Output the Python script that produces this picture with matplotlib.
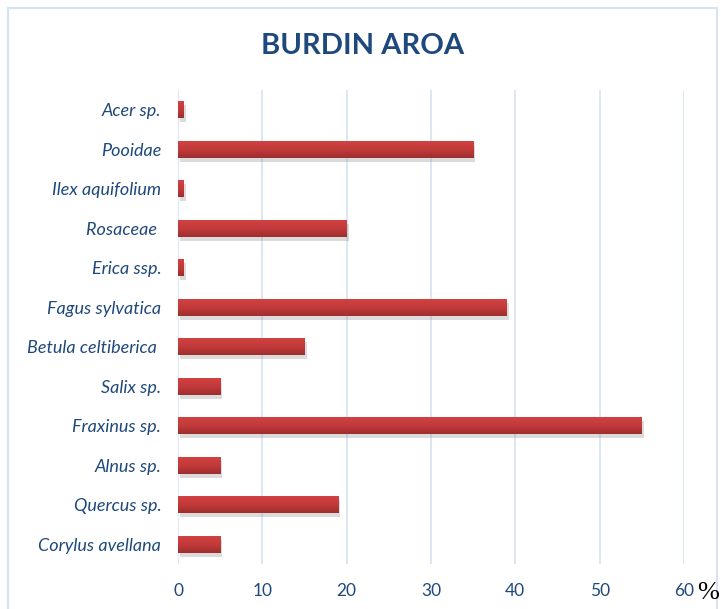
import numpy as np
import matplotlib.pyplot as plt
import matplotlib.patheffects as pe
from matplotlib.patches import Rectangle
from matplotlib.colors import LinearSegmentedColormap

# taxa, top to bottom as in the chart
taxa = ["Acer sp.", "Pooidae", "Ilex aquifolium", "Rosaceae ", "Erica ssp.",
        "Fagus sylvatica", "Betula celtiberica ", "Salix sp.", "Fraxinus sp.",
        "Alnus sp.", "Quercus sp.", "Corylus avellana"]
percent = [0.7, 35, 0.7, 20, 0.7, 39, 15, 5, 55, 5, 19, 5]
xticks = [0, 10, 20, 30, 40, 50, 60]

text_blue = "#1F497D"
grid_blue = "#D5E3F3"

fig = plt.figure(figsize=(7.21, 6.09), dpi=100)
ax = fig.add_axes([178 / 721, 45 / 609, (684 - 178) / 721, (564 - 90) / 609])

# outer chart frame
fig.patches.append(Rectangle((8 / 721, -0.05), (717 - 8) / 721, 1.05 - 8 / 609,
                             transform=fig.transFigure, fill=False,
                             edgecolor=grid_blue, linewidth=1.5))

y = np.arange(len(taxa))
h = 0.43
bars = ax.barh(y, percent, height=h, color="#C63A3A", linewidth=0, zorder=3)

# vertical red gradient on each bar, lighter on top
grad = LinearSegmentedColormap.from_list("bar", ["#D24242", "#C23A3A", "#9E2E2E"])
g = np.linspace(0, 1, 64).reshape(-1, 1)
for b, yi, v in zip(bars, y, percent):
    b.set_path_effects([pe.SimplePatchShadow(offset=(1.5, -3), shadow_rgbFace="#888888",
                                             alpha=0.3), pe.Normal()])
    im = ax.imshow(g, cmap=grad, aspect="auto", zorder=4,
                   extent=(0, v, yi + h / 2, yi - h / 2), interpolation="bilinear")
    im.set_clip_path(b)

ax.set_ylim(len(taxa) - 0.5, -0.5)
ax.set_xlim(0, 60)
ax.set_xticks(xticks)
ax.set_yticks(y)
ax.set_yticklabels(taxa, fontstyle="italic", family="Lato", fontsize=13,
                   color=text_blue)
ax.set_xticklabels([str(t) for t in xticks], family="Lato", fontsize=12.5,
                   color=text_blue)
ax.tick_params(axis="both", length=0)
ax.tick_params(axis="y", pad=12)
ax.tick_params(axis="x", pad=14)

ax.grid(axis="x", color=grid_blue, linewidth=1.2, zorder=0)
ax.set_axisbelow(True)
for s in ax.spines.values():
    s.set_visible(False)

fig.text(363 / 721, 1 - 46 / 609, "BURDIN AROA", ha="center", va="center",
         family="Lato", fontweight="bold", fontsize=21, color=text_blue)
fig.text(719 / 721, 1 - 593 / 609, "%", ha="right", va="center",
         family="Liberation Serif", fontsize=19, color="black")

fig.savefig("out.png", dpi=100, facecolor="white")
